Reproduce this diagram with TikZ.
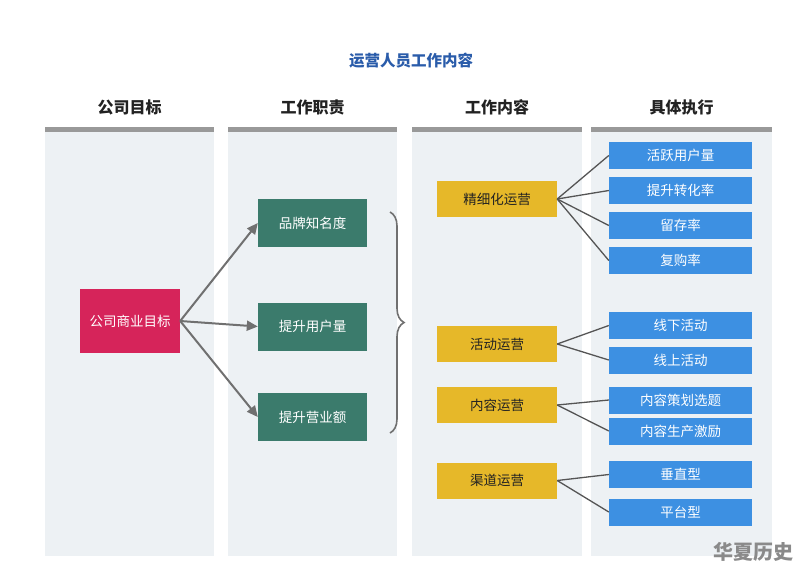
\documentclass[tikz,border=0pt]{standalone}
\usepackage{fontspec}
\setmainfont{Noto Sans CJK SC}
\usetikzlibrary{arrows.meta,decorations.pathreplacing}
\definecolor{colbg}{HTML}{EDF1F4}
\definecolor{barc}{HTML}{999999}
\definecolor{titleblue}{HTML}{2A5CAA}
\definecolor{redc}{HTML}{D6245A}
\definecolor{greenc}{HTML}{3B7B6C}
\definecolor{yellowc}{HTML}{E6B829}
\definecolor{bluec}{HTML}{3D90E2}
\definecolor{arrowc}{HTML}{707070}
\definecolor{linec}{HTML}{555555}
\definecolor{headc}{HTML}{222222}
\definecolor{wmc}{HTML}{8A8A8A}
\tikzset{
  colbox/.style={fill=colbg, draw=none},
  barbox/.style={fill=barc, draw=none},
  head/.style={font=\fontsize{16}{18}\selectfont\bfseries, text=headc},
  basebox/.style={draw=none, inner sep=0pt, font=\fontsize{13.5}{16}\selectfont},
  redbox/.style={basebox, fill=redc, text=white, minimum width=100pt, minimum height=64pt},
  greenbox/.style={basebox, fill=greenc, text=white, minimum width=109pt, minimum height=48pt},
  yellowbox/.style={basebox, fill=yellowc, text=headc, minimum width=120pt, minimum height=36pt},
  bluebox/.style={basebox, fill=bluec, text=white, minimum width=143pt, minimum height=27pt},
  arr/.style={draw=arrowc, line width=2pt, -{Triangle[length=11pt,width=10pt]}},
  conn/.style={draw=linec, line width=1.3pt},
}
\begin{document}
\begin{tikzpicture}[x=1pt,y=-1pt]
\useasboundingbox (0,0) rectangle (800,574);
\fill[white] (0,0) rectangle (800,574);
% title
\node[font=\fontsize{15.5}{18}\selectfont\bfseries, text=titleblue] (title) at (411,61) {运营人员工作内容};
% columns
\fill[colbox] (45,132) rectangle (214,556);
\fill[colbox] (228,132) rectangle (397,556);
\fill[colbox] (412,132) rectangle (582,556);
\fill[colbox] (591,132) rectangle (772,556);
\fill[barbox] (45,127) rectangle (214,132);
\fill[barbox] (228,127) rectangle (397,132);
\fill[barbox] (412,127) rectangle (582,132);
\fill[barbox] (591,127) rectangle (772,132);
\node[head] (h1) at (129.5,107) {公司目标};
\node[head] (h2) at (312.5,107) {工作职责};
\node[head] (h3) at (497,107) {工作内容};
\node[head] (h4) at (681.5,107) {具体执行};
% red
\node[redbox] (r) at (130,321) {公司商业目标};
% green
\node[greenbox] (g1) at (312.5,223) {品牌知名度};
\node[greenbox] (g2) at (312.5,326.5) {提升用户量};
\node[greenbox] (g3) at (312.5,417) {提升营业额};
\draw[arr] (r.east) -- (g1.west);
\draw[arr] (r.east) -- (g2.west);
\draw[arr] (r.east) -- (g3.west);
% brace
\coordinate (b1) at (390,212);
\coordinate (b2) at (390,433);
\draw[draw=arrowc, line width=1.6pt, decorate, decoration={brace, amplitude=14pt}] (b1) -- (b2);
% yellow
\node[yellowbox] (y1) at (497,199) {精细化运营};
\node[yellowbox] (y2) at (497,344) {活动运营};
\node[yellowbox] (y3) at (497,405) {内容运营};
\node[yellowbox] (y4) at (497,480.5) {渠道运营};
% blue
\node[bluebox] (b11) at (680.5,155.5) {活跃用户量};
\node[bluebox] (b12) at (680.5,190.5) {提升转化率};
\node[bluebox] (b13) at (680.5,225.5) {留存率};
\node[bluebox] (b14) at (680.5,260.5) {复购率};
\node[bluebox] (b21) at (680.5,325.5) {线下活动};
\node[bluebox] (b22) at (680.5,360) {线上活动};
\node[bluebox] (b31) at (680.5,400) {内容策划选题};
\node[bluebox] (b32) at (680.5,431) {内容生产激励};
\node[bluebox] (b41) at (680.5,474.5) {垂直型};
\node[bluebox] (b42) at (680.5,512) {平台型};
\foreach \t in {b11,b12,b13,b14} \draw[conn] (y1.east) -- (\t.west);
\foreach \t in {b21,b22} \draw[conn] (y2.east) -- (\t.west);
\foreach \t in {b31,b32} \draw[conn] (y3.east) -- (\t.west);
\foreach \t in {b41,b42} \draw[conn] (y4.east) -- (\t.west);
% watermark
\node[font=\fontsize{20}{22}\selectfont\bfseries, text=wmc] (wm) at (753,552) {华夏历史};
\end{tikzpicture}
\end{document}
